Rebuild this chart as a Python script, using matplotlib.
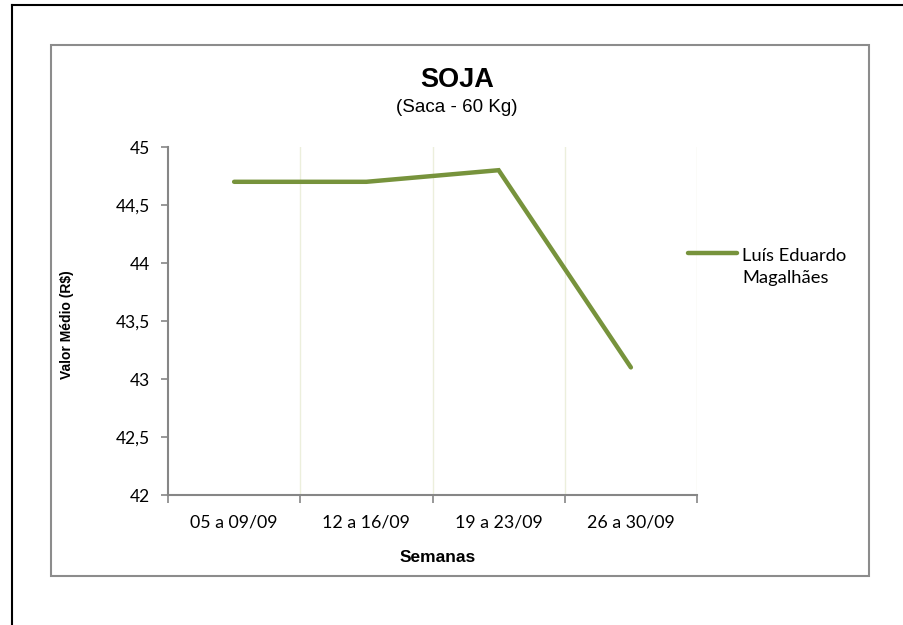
import matplotlib
matplotlib.use("Agg")
import matplotlib.pyplot as plt
from matplotlib.patches import Rectangle
from matplotlib.lines import Line2D

categories = ["05 a 09/09", "12 a 16/09", "19 a 23/09", "26 a 30/09"]
values = [44.7, 44.7, 44.8, 43.1]
series_name = "Luís Eduardo\nMagalhães"
yticks = [42, 42.5, 43, 43.5, 44, 44.5, 45]
ytick_labels = ["42", "42,5", "43", "43,5", "44", "44,5", "45"]

W, H = 904, 625
fig = plt.figure(figsize=(W / 100, H / 100), dpi=100)

def fx(px):
    return px / W

def fy(py):
    return 1 - py / H

# outer black frame (top and left)
fig.add_artist(Line2D([fx(12), 1.0], [fy(5), fy(5)], color="black", lw=1.5, transform=fig.transFigure))
fig.add_artist(Line2D([fx(12), fx(12)], [fy(5), 0.0], color="black", lw=1.5, transform=fig.transFigure))

# chart box
fig.add_artist(Rectangle((fx(51), fy(576)), fx(869) - fx(51), fy(45) - fy(576),
                         transform=fig.transFigure, fill=False, edgecolor="#8c8c8c", lw=1.5))

ax = fig.add_axes([fx(168), fy(495), fx(697) - fx(168), fy(147) - fy(495)])
x = list(range(len(categories)))
ax.plot(x, values, color="#77933C", lw=3.2, solid_capstyle="round", solid_joinstyle="miter")

ax.set_xlim(-0.5, len(categories) - 0.5)
ax.set_ylim(42, 45)
ax.set_yticks(yticks)
ax.set_yticklabels(ytick_labels)
ax.set_xticks(x)
ax.set_xticklabels(categories)
ax.set_xticks([i + 0.5 for i in range(-1, len(categories))], minor=True)

for i in range(len(categories)):
    ax.axvline(i + 0.5, color="#ecefdc", lw=1, zorder=0)

for s in ["top", "right"]:
    ax.spines[s].set_visible(False)
for s in ["left", "bottom"]:
    ax.spines[s].set_color("#868686")
    ax.spines[s].set_linewidth(1.5)

ax.tick_params(axis="y", direction="out", length=5, color="#868686", width=1.2,
               labelsize=12.5, pad=8, labelcolor="black")
ax.tick_params(axis="x", which="major", length=0, labelsize=12.8, pad=14)
ax.tick_params(axis="x", which="minor", direction="out", length=6, color="#868686", width=1.2)
for lbl in ax.get_xticklabels() + ax.get_yticklabels():
    lbl.set_fontfamily("Lato")

fig.text(fx(457), fy(80), "SOJA", ha="center", va="center", fontsize=19.5,
         fontweight="bold", family="Liberation Sans")
fig.text(fx(457), fy(107), "(Saca - 60 Kg)", ha="center", va="center", fontsize=13.5,
         family="Liberation Sans")
fig.text(fx(438), fy(557), "Semanas", ha="center", va="center", fontsize=12.5,
         fontweight="bold", family="Liberation Sans")
fig.text(fx(67), fy(325), "Valor Médio (R$)", ha="center", va="center", fontsize=10,
         fontweight="bold", rotation=90, family="Liberation Sans")

# legend
fig.add_artist(Line2D([fx(688), fx(737)], [fy(253), fy(253)], color="#77933C", lw=3.2,
                      solid_capstyle="round", transform=fig.transFigure))
fig.text(fx(742), fy(267), series_name, ha="left", va="center", fontsize=13.2,
         family="Lato", linespacing=1.5)

fig.savefig("out.png", dpi=100)
